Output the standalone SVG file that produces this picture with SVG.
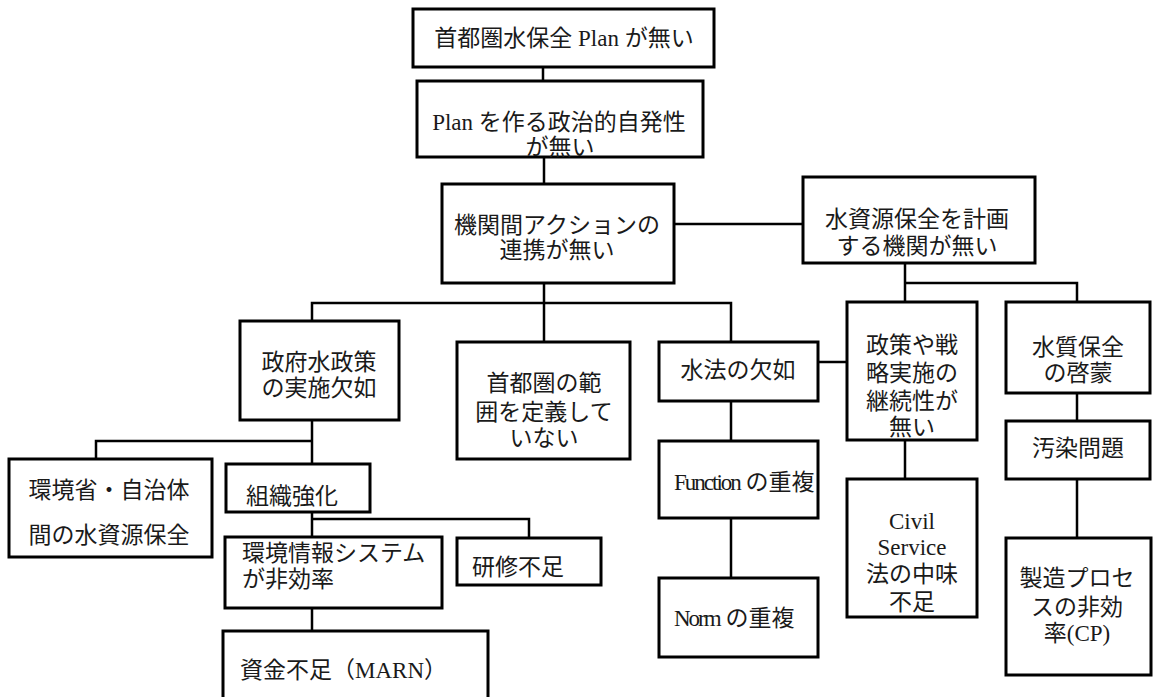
<svg xmlns="http://www.w3.org/2000/svg" width="1156" height="697" viewBox="0 0 1156 697">
<style>
.b{fill:#fff;stroke:#000;stroke-width:3}
.c{fill:none;stroke:#000;stroke-width:2.5;stroke-linecap:square}
text{font-family:"Liberation Serif","Noto Sans CJK JP",serif;font-size:23px;fill:#1a1a1a}
.m{text-anchor:middle}
.cn{letter-spacing:-2px}
</style>
<rect width="1156" height="697" fill="#fff"/>
<g id="connectors">
<path class="c" d="M543,67V81M544,157V184M674,224H803M544,283V342M312,321V303H731V342M731,401V441M731,518V578M818,362H847M905,263V302M905,283H1077V302M905,440V479M1077,393V421M1077,479V538M312,420V464M96,459V441H312M312,512V537M312,519H529V538M312,608V631"/>
</g>
<g id="n1"><rect class="b" x="413" y="9" width="301" height="58"/><text class="m" x="564" y="46">首都圏水保全 Plan が無い</text></g>
<g id="n2"><rect class="b" x="417" y="81" width="286" height="76"/><text class="m" x="559" y="130">Plan を作る政治的自発性</text><text class="m" x="560" y="155">が無い</text></g>
<g id="n3"><rect class="b" x="442" y="184" width="232" height="99"/><text class="m" x="557" y="233">機関間アクションの</text><text class="m" x="557" y="258">連携が無い</text></g>
<g id="n4"><rect class="b" x="803" y="177" width="232" height="86"/><text class="m" x="917" y="227">水資源保全を計画</text><text class="m" x="917" y="254">する機関が無い</text></g>
<g id="n5"><rect class="b" x="240" y="321" width="159" height="99"/><text class="m" x="319" y="370">政府水政策</text><text class="m" x="319" y="396">の実施欠如</text></g>
<g id="n6"><rect class="b" x="457" y="342" width="173" height="117"/><text class="m" x="544" y="391">首都圏の範</text><text class="m" x="544" y="420">囲を定義して</text><text class="m" x="544" y="446">いない</text></g>
<g id="n7"><rect class="b" x="659" y="342" width="159" height="59"/><text class="m" x="738" y="378">水法の欠如</text></g>
<g id="n8"><rect class="b" x="847" y="302" width="130" height="138"/><text class="m" x="912" y="353">政策や戦</text><text class="m" x="912" y="381">略実施の</text><text class="m" x="912" y="409">継続性が</text><text class="m" x="912" y="435">無い</text></g>
<g id="n9"><rect class="b" x="1006" y="302" width="144" height="91"/><text class="m" x="1078" y="355">水質保全</text><text class="m" x="1078" y="381">の啓蒙</text></g>
<g id="n10"><rect class="b" x="9" y="459" width="203" height="98"/><text class="m" x="109" y="498">環境省・自治体</text><text class="m" x="109" y="543">間の水資源保全</text></g>
<g id="n11"><rect class="b" x="226" y="464" width="144" height="48"/><text class="m" x="292" y="504">組織強化</text></g>
<g id="n12"><rect class="b" x="225" y="537" width="217" height="71"/><text x="242" y="561">環境情報システム</text><text x="242" y="587">が非効率</text></g>
<g id="n13"><rect class="b" x="457" y="538" width="144" height="47"/><text x="472" y="575">研修不足</text></g>
<g id="n14"><rect class="b" x="223" y="631" width="265" height="80"/><text x="240" y="678">資金不足（MARN）</text></g>
<g id="n15"><rect class="b" x="659" y="441" width="159" height="77"/><text x="674" y="490"><tspan class="cn">Function</tspan> の重複</text></g>
<g id="n16"><rect class="b" x="659" y="578" width="159" height="79"/><text x="674" y="626"><tspan class="cn">Norm</tspan> の重複</text></g>
<g id="n17"><rect class="b" x="847" y="479" width="130" height="138"/><text class="m" x="912" y="529">Civil</text><text class="m" x="912" y="555">Service</text><text class="m" x="912" y="582">法の中味</text><text class="m" x="912" y="610">不足</text></g>
<g id="n18"><rect class="b" x="1006" y="421" width="144" height="58"/><text class="m" x="1078" y="456">汚染問題</text></g>
<g id="n19"><rect class="b" x="1006" y="538" width="145" height="137"/><text class="m" x="1077" y="586">製造プロセ</text><text class="m" x="1077" y="615">スの非効</text><text class="m" x="1077" y="641">率(CP)</text></g>
</svg>
